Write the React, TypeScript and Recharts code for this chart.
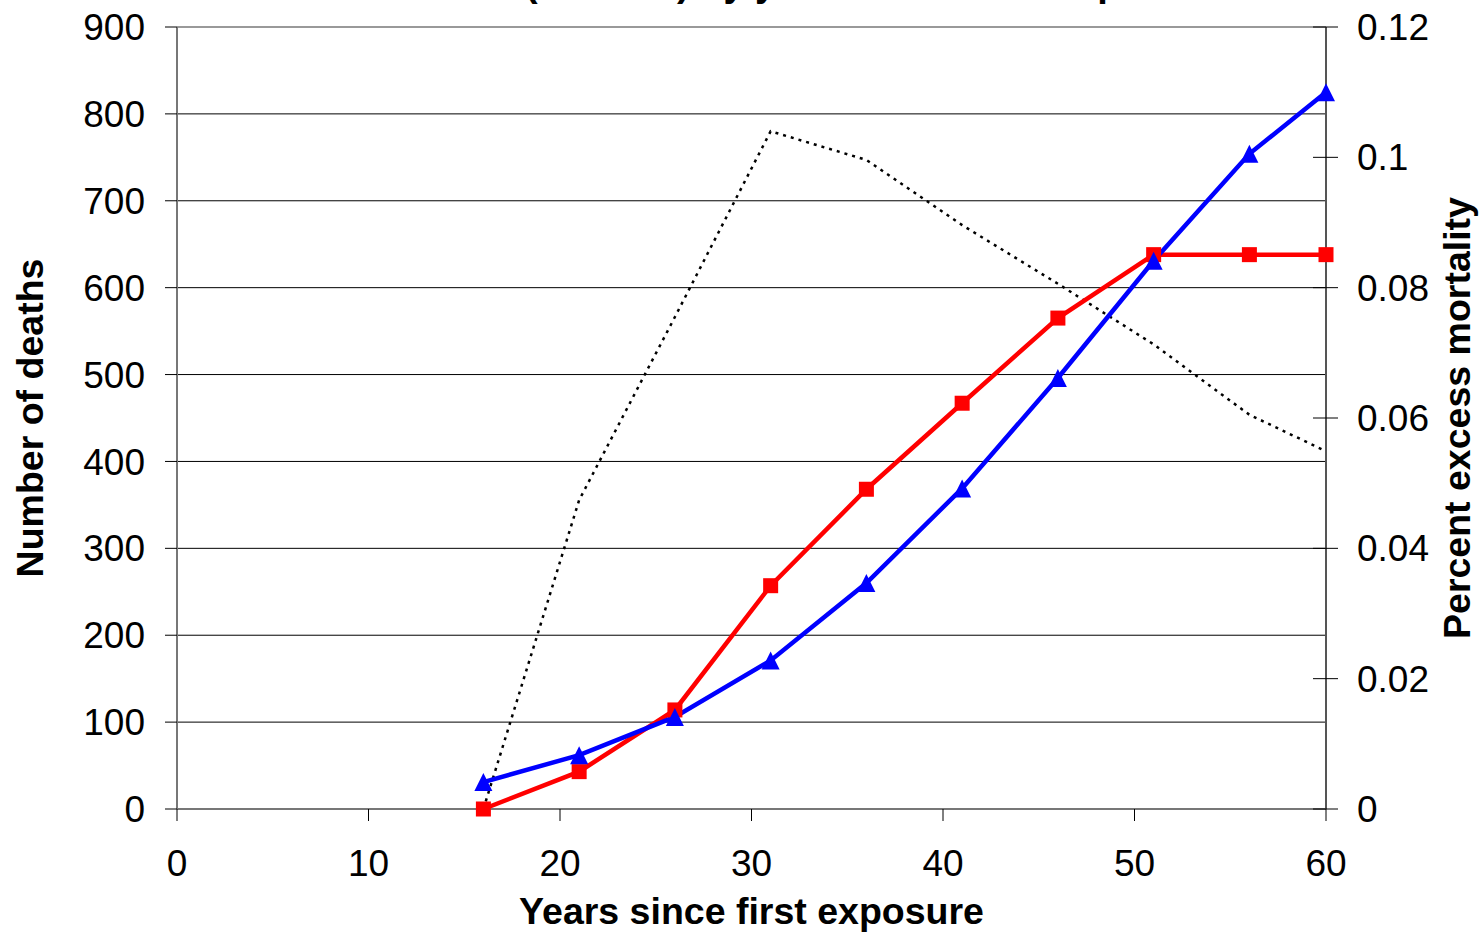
import { LineChart, Line, XAxis, YAxis, CartesianGrid, ReferenceLine } from "recharts";

document.body.style.margin = "0";

const years = [16, 21, 26, 31, 36, 41, 46, 51, 56, 60];
const deathsRed = [0, 43, 114, 257, 368, 467, 565, 638, 638, 638];
const deathsBlue = [31, 62, 106, 171, 260, 369, 496, 631, 754, 825];
const excessPct = [0, 0.0474, 0.0755, 0.104, 0.0996, 0.0896, 0.0806, 0.0713, 0.0605, 0.0549];

const xTicks = [0, 10, 20, 30, 40, 50, 60];
const leftTicks = [0, 100, 200, 300, 400, 500, 600, 700, 800, 900];
const rightTicks = [0, 0.02, 0.04, 0.06, 0.08, 0.1, 0.12];

const data = years.map((x, i) => ({
  x,
  red: deathsRed[i],
  blue: deathsBlue[i],
  pct: excessPct[i],
}));

const FONT = "'Liberation Sans', Arial, sans-serif";

// red square marker
function Square(props: any) {
  const { cx, cy, index } = props;
  if (cx == null || cy == null) return <g key={`s-${index}`} />;
  return <rect key={`s-${index}`} x={cx - 7.5} y={cy - 7.5} width={15} height={15} fill="#FF0000" />;
}

// blue triangle marker
function Triangle(props: any) {
  const { cx, cy, index } = props;
  if (cx == null || cy == null) return <g key={`t-${index}`} />;
  const h = 18;
  const w = 18;
  return (
    <polygon
      key={`t-${index}`}
      points={`${cx},${cy - h / 2} ${cx + w / 2},${cy + h / 2} ${cx - w / 2},${cy + h / 2}`}
      fill="#0000FF"
    />
  );
}

// right axis ticks cross the axis line
function RightTick(props: any) {
  const { x, y, payload } = props;
  return (
    <g>
      <line x1={x - 13} x2={x + 12} y1={y} y2={y} stroke="#000" strokeWidth={1} />
      <text x={x + 31} y={y} dy="0.355em" textAnchor="start" fontSize={37} fill="#000">
        {String(payload.value)}
      </text>
    </g>
  );
}

export default function App() {
  return (
    <div style={{ position: "relative", width: 1483, height: 933, overflow: "hidden", fontFamily: FONT, background: "#fff" }}>
      {/* title is cut off at the top edge in the original */}
      <svg width={1483} height={40} style={{ position: "absolute", left: 0, top: 0 }}>
        <text x={1224} y={-4} textAnchor="end" fontSize={38} fontWeight="bold" fill="#000" fontFamily={FONT}>
          Excess deaths (number) by years since first exposure
        </text>
      </svg>
      <LineChart width={1483} height={933} data={data} margin={{ top: 27, right: 0, bottom: 0, left: 0 }}>
        <CartesianGrid yAxisId="left" vertical={false} stroke="#000" strokeWidth={1} />
        <XAxis
          dataKey="x"
          type="number"
          domain={[0, 60]}
          ticks={xTicks}
          height={124}
          tickSize={12}
          tickMargin={29}
          axisLine={{ stroke: "#777", strokeWidth: 2 }}
          tickLine={{ stroke: "#000" }}
          tick={{ fontSize: 37, fill: "#000" }}
          label={{
            value: "Years since first exposure",
            position: "insideBottom",
            offset: 9,
            fontSize: 37.5,
            fontWeight: "bold",
            fill: "#000",
          }}
        />
        <YAxis
          yAxisId="left"
          domain={[0, 900]}
          ticks={leftTicks}
          width={177}
          tickSize={12}
          tickMargin={20}
          axisLine={{ stroke: "#777", strokeWidth: 2 }}
          tickLine={{ stroke: "#000" }}
          tick={{ fontSize: 37, fill: "#000" }}
          label={{
            value: "Number of deaths",
            angle: -90,
            position: "insideLeft",
            offset: 30,
            fontSize: 37.5,
            fontWeight: "bold",
            fill: "#000",
            style: { textAnchor: "middle" },
          }}
        />
        <YAxis
          yAxisId="right"
          orientation="right"
          domain={[0, 0.12]}
          ticks={rightTicks}
          width={157}
          tickSize={0}
          tickMargin={0}
          axisLine={{ stroke: "#555", strokeWidth: 2 }}
          tickLine={false}
          tick={RightTick}
          label={{
            value: "Percent excess mortality",
            angle: -90,
            position: "insideRight",
            offset: 26,
            fontSize: 37.5,
            fontWeight: "bold",
            fill: "#000",
            style: { textAnchor: "middle" },
          }}
        />
        <ReferenceLine yAxisId="left" y={900} stroke="#999" strokeWidth={2} />
        <Line
          yAxisId="right"
          dataKey="pct"
          type="linear"
          stroke="#000"
          strokeWidth={2.5}
          strokeDasharray="3 5"
          dot={false}
          activeDot={false}
          isAnimationActive={false}
        />
        <Line
          yAxisId="left"
          dataKey="red"
          type="linear"
          stroke="#FF0000"
          strokeWidth={4.5}
          dot={(p: any) => <Square key={`s-${p.index}`} {...p} />}
          activeDot={false}
          isAnimationActive={false}
        />
        <Line
          yAxisId="left"
          dataKey="blue"
          type="linear"
          stroke="#0000FF"
          strokeWidth={4.5}
          dot={(p: any) => <Triangle key={`t-${p.index}`} {...p} />}
          activeDot={false}
          isAnimationActive={false}
        />
      </LineChart>
    </div>
  );
}
